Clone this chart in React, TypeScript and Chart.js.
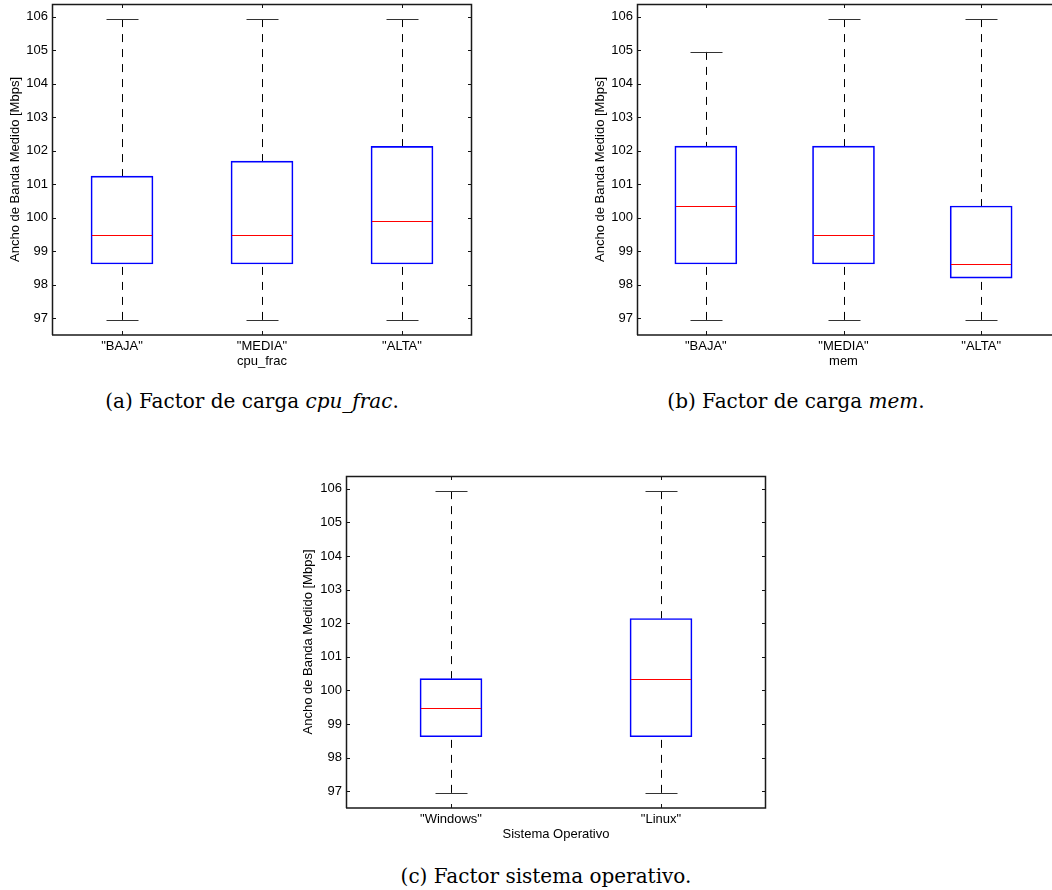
import React, { useEffect, useRef } from 'react';
import { Chart, registerables } from 'chart.js';

Chart.register(...registerables);

// ---- shared axis data ----
const Y_MIN = 96.5;
const Y_MAX = 106.38;
const yTicks = [97, 98, 99, 100, 101, 102, 103, 104, 105, 106];
const yTitle = 'Ancho de Banda Medido [Mbps]';

// ---- (a) cpu_frac ----
const catsA = ['"BAJA"', '"MEDIA"', '"ALTA"'];
const lowA = [96.95, 96.95, 96.95];
const q1A = [98.62, 98.62, 98.62];
const medA = [99.47, 99.47, 99.9];
const q3A = [101.24, 101.69, 102.13];
const highA = [105.93, 105.93, 105.93];

// ---- (b) mem ----
const catsB = ['"BAJA"', '"MEDIA"', '"ALTA"'];
const lowB = [96.95, 96.95, 96.95];
const q1B = [98.62, 98.62, 98.2];
const medB = [100.35, 99.47, 98.62];
const q3B = [102.14, 102.14, 100.35];
const highB = [104.95, 105.93, 105.93];

// ---- (c) sistema operativo ----
const catsC = ['"Windows"', '"Linux"'];
const lowC = [96.95, 96.95];
const q1C = [98.62, 98.62];
const medC = [99.47, 100.35];
const q3C = [100.35, 102.14];
const highC = [105.93, 105.93];

const FONT = '"Liberation Sans", Arial, Helvetica, sans-serif';
const FS = 13;

const boxPlugin = {
  id: 'boxExtras',
  beforeDatasetsDraw(chart: any) {
    const o = chart.options.plugins.boxExtras;
    const xs = chart.scales.x;
    const ys = chart.scales.y;
    const ctx = chart.ctx;
    ctx.save();
    for (let i = 0; i < o.low.length; i++) {
      const x = Math.round(xs.getPixelForValue(i)) + 0.5;
      const yLo = ys.getPixelForValue(o.low[i]);
      const yHi = ys.getPixelForValue(o.high[i]);
      const yQ1 = ys.getPixelForValue(o.q1[i]);
      const yQ3 = ys.getPixelForValue(o.q3[i]);
      // dashed whiskers
      ctx.strokeStyle = '#000';
      ctx.lineWidth = 1;
      ctx.setLineDash([8, 7]);
      ctx.beginPath();
      ctx.moveTo(x, yHi);
      ctx.lineTo(x, yQ3);
      ctx.moveTo(x, yLo);
      ctx.lineTo(x, yQ1);
      ctx.stroke();
      // caps
      ctx.setLineDash([]);
      ctx.strokeStyle = '#333';
      ctx.beginPath();
      const yh = Math.round(yHi) + 0.5;
      const yl = Math.round(yLo) + 0.5;
      ctx.moveTo(x - o.capHalf, yh);
      ctx.lineTo(x + o.capHalf, yh);
      ctx.moveTo(x - o.capHalf, yl);
      ctx.lineTo(x + o.capHalf, yl);
      ctx.stroke();
    }
    ctx.restore();
  },
  afterDatasetsDraw(chart: any) {
    const o = chart.options.plugins.boxExtras;
    const xs = chart.scales.x;
    const ys = chart.scales.y;
    const ctx = chart.ctx;
    ctx.save();
    ctx.strokeStyle = '#ff0000';
    ctx.lineWidth = 1;
    for (let i = 0; i < o.med.length; i++) {
      const x = Math.round(xs.getPixelForValue(i));
      const y = Math.round(ys.getPixelForValue(o.med[i])) + 0.5;
      ctx.beginPath();
      ctx.moveTo(x - o.boxHalf + 1, y);
      ctx.lineTo(x + o.boxHalf - 1, y);
      ctx.stroke();
    }
    ctx.restore();
  },
  afterDraw(chart: any) {
    const o = chart.options.plugins.boxExtras;
    const { left, right, top, bottom } = chart.chartArea;
    const xs = chart.scales.x;
    const ys = chart.scales.y;
    const ctx = chart.ctx;
    ctx.save();
    ctx.strokeStyle = '#111';
    ctx.lineWidth = 1;
    const TL = 4;
    ctx.beginPath();
    for (const v of yTicks) {
      const y = Math.round(ys.getPixelForValue(v)) + 0.5;
      ctx.moveTo(left, y);
      ctx.lineTo(left + TL, y);
      if (o.drawRight) {
        ctx.moveTo(right, y);
        ctx.lineTo(right - TL, y);
      }
    }
    for (let i = 0; i < o.low.length; i++) {
      const x = Math.round(xs.getPixelForValue(i)) + 0.5;
      ctx.moveTo(x, top);
      ctx.lineTo(x, top + TL);
      ctx.moveTo(x, bottom);
      ctx.lineTo(x, bottom - TL);
    }
    ctx.stroke();
    ctx.lineWidth = 1.5;
    ctx.strokeStyle = '#1a1a1a';
    ctx.beginPath();
    ctx.moveTo(left + 0.5, bottom);
    ctx.lineTo(left + 0.5, top + 0.5);
    if (o.drawRight) {
      ctx.lineTo(right - 0.5, top + 0.5);
      ctx.lineTo(right - 0.5, bottom);
      ctx.lineTo(left, bottom);
    } else {
      ctx.lineTo(right + 2, top + 0.5);
      ctx.moveTo(right + 2, bottom);
      ctx.lineTo(left, bottom);
    }
    ctx.stroke();
    ctx.restore();
  },
};

type BoxProps = {
  cats: string[];
  low: number[];
  q1: number[];
  med: number[];
  q3: number[];
  high: number[];
  xTitle: string;
  box: { left: number; top: number; width: number; height: number };
  padTop: number;
  padRight: number;
  yWidth: number;
  xHeight: number;
  yTitlePad: number;
  xTitlePad: number;
  drawRight: boolean;
};

function BoxChart(p: BoxProps) {
  const ref = useRef<HTMLCanvasElement | null>(null);
  useEffect(() => {
    if (!ref.current) return;
    const boxW = 62;
    const chart = new Chart(ref.current, {
      type: 'bar',
      data: {
        labels: p.cats,
        datasets: [
          {
            data: p.q1.map((v, i) => [v, p.q3[i]]) as any,
            backgroundColor: 'rgba(0,0,0,0)',
            borderColor: '#0000ff',
            borderWidth: 1,
            borderSkipped: false,
            barThickness: boxW,
          },
        ],
      },
      options: {
        animation: false,
        responsive: true,
        maintainAspectRatio: false,
        events: [],
        layout: { padding: { top: p.padTop, right: p.padRight, left: 0, bottom: 0 } },
        plugins: {
          legend: { display: false },
          tooltip: { enabled: false },
          boxExtras: {
            low: p.low,
            high: p.high,
            q1: p.q1,
            q3: p.q3,
            med: p.med,
            capHalf: 16,
            boxHalf: boxW / 2,
            drawRight: p.drawRight,
          },
        } as any,
        scales: {
          x: {
            type: 'category',
            offset: true,
            grid: { display: false, drawTicks: false },
            border: { display: false },
            ticks: {
              color: '#000',
              font: { family: FONT, size: FS },
              padding: 3.5,
              maxRotation: 0,
              autoSkip: false,
            },
            title: {
              display: true,
              text: p.xTitle,
              color: '#000',
              font: { family: FONT, size: FS },
              padding: { top: 0, bottom: p.xTitlePad },
            },
            afterFit: (s: any) => {
              s.height = p.xHeight;
              s.paddingLeft = 0;
              s.paddingRight = 0;
            },
          },
          y: {
            type: 'linear',
            min: Y_MIN,
            max: Y_MAX,
            grid: { display: false, drawTicks: false },
            border: { display: false },
            afterBuildTicks: (s: any) => {
              s.ticks = yTicks.map((v) => ({ value: v }));
            },
            ticks: {
              color: '#000',
              font: { family: FONT, size: FS },
              padding: 4,
            },
            title: {
              display: true,
              text: yTitle,
              color: '#000',
              font: { family: FONT, size: FS },
              padding: { top: p.yTitlePad, bottom: 0 },
            },
            afterFit: (s: any) => {
              s.width = p.yWidth;
              s.paddingTop = 0;
              s.paddingBottom = 0;
            },
          },
        },
      },
      plugins: [boxPlugin as any],
    });
    return () => chart.destroy();
  }, []);
  return (
    <div
      style={{
        position: 'absolute',
        left: p.box.left,
        top: p.box.top,
        width: p.box.width,
        height: p.box.height,
      }}
    >
      <canvas ref={ref} />
    </div>
  );
}

const capStyle = (cx: number, cy: number): React.CSSProperties => ({
  position: 'absolute',
  left: cx - 250,
  top: cy - 12,
  width: 500,
  height: 24,
  lineHeight: '24px',
  textAlign: 'center',
  fontFamily: '"DejaVu Serif", serif',
  fontSize: 20,
  color: '#000',
  whiteSpace: 'nowrap',
});

export default function App() {
  return (
    <div
      style={{
        position: 'absolute',
        left: 0,
        top: 0,
        width: 1052,
        height: 890,
        overflow: 'hidden',
        background: '#fff',
      }}
    >
      <BoxChart
        cats={catsA}
        low={lowA}
        q1={q1A}
        med={medA}
        q3={q3A}
        high={highA}
        xTitle="cpu_frac"
        box={{ left: 0, top: 0, width: 480, height: 380 }}
        padTop={4}
        padRight={8}
        yWidth={52}
        xHeight={45}
        yTitlePad={7.5}
        xTitlePad={10.5}
        drawRight={true}
      />
      <BoxChart
        cats={catsB}
        low={lowB}
        q1={q1B}
        med={medB}
        q3={q3B}
        high={highB}
        xTitle="mem"
        box={{ left: 585, top: 0, width: 467, height: 380 }}
        padTop={4}
        padRight={2}
        yWidth={52}
        xHeight={45}
        yTitlePad={7.5}
        xTitlePad={10.5}
        drawRight={false}
      />
      <BoxChart
        cats={catsC}
        low={lowC}
        q1={q1C}
        med={medC}
        q3={q3C}
        high={highC}
        xTitle="Sistema Operativo"
        box={{ left: 290, top: 472, width: 490, height: 380 }}
        padTop={4}
        padRight={14}
        yWidth={56}
        xHeight={44}
        yTitlePad={10.5}
        xTitlePad={10.2}
        drawRight={true}
      />
      <div style={capStyle(252, 401)}>
        (a) Factor de carga <i>cpu_frac</i>.
      </div>
      <div style={capStyle(796, 401)}>
        (b) Factor de carga <i>mem</i>.
      </div>
      <div style={capStyle(546, 876)}>(c) Factor sistema operativo.</div>
    </div>
  );
}
